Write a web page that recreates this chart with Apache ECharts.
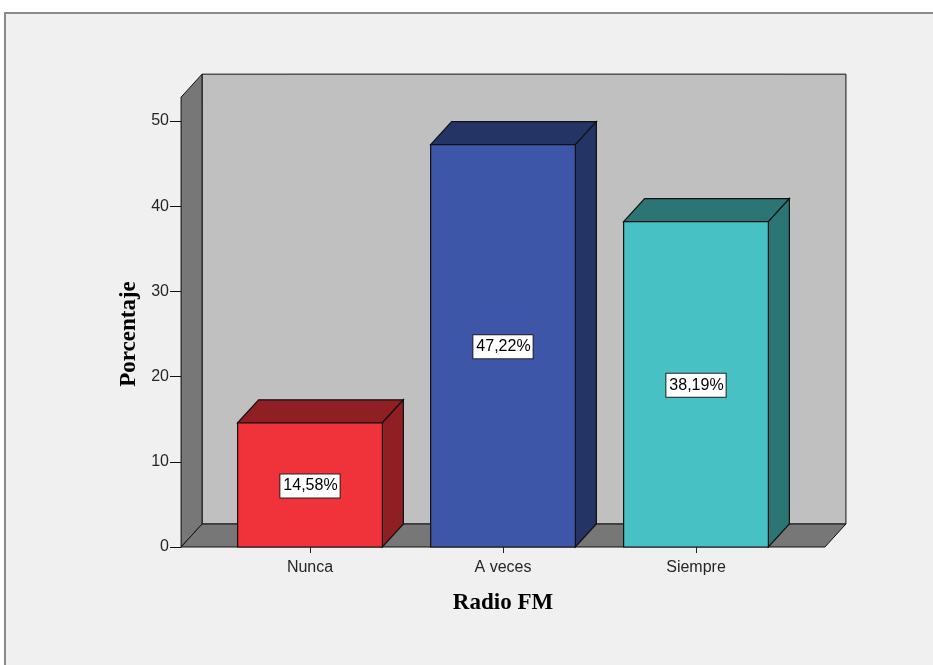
<!DOCTYPE html>
<html>
<head>
<meta charset="utf-8">
<script src="https://cdn.jsdelivr.net/npm/echarts@6/dist/echarts.min.js"></script>
<style>
  html, body { margin: 0; padding: 0; background: #ffffff; }
  #chart { width: 933px; height: 665px; }
</style>
</head>
<body>
<div id="chart"></div>
<script>
// Radio FM listening frequency, percentage of respondents
const categories = ['Nunca', 'A veces', 'Siempre'];
const percentages = [14.58, 47.22, 38.19];
const yTicks = [0, 10, 20, 30, 40, 50];

// face colours: front, and the darker top/side shade
const frontColors = ['#f0333a', '#3d56a8', '#47c1c4'];
const shadeColors = ['#8f1f23', '#243465', '#2b7574'];

// 3D depth offset in pixels
const DX = 21, DY = -23;
const BAR_RATIO = 0.75;
const WALL_EXT = 0.168;  // how far the walls reach past the outer bands
const WALL_TOP = 52.8;   // value level of the front top edge of the side wall

const chart = echarts.init(document.getElementById('chart'));

function fmtPct(v) {
  return v.toFixed(2).replace('.', ',') + '%';
}

function renderFrame(params, api) {
  const cs = params.coordSys;
  const band = cs.width / categories.length;
  const ext = band * WALL_EXT;
  const xl = cs.x - ext;
  const xr = cs.x + cs.width + ext;
  const yb = api.coord([0, 0])[1];
  const yt = api.coord([0, WALL_TOP])[1];
  const stroke = { stroke: '#111', lineWidth: 1 };
  return {
    type: 'group',
    children: [
      {
        type: 'polygon',
        shape: { points: [[xl + DX, yt + DY], [xr + DX, yt + DY], [xr + DX, yb + DY], [xl + DX, yb + DY]] },
        style: Object.assign({ fill: '#c0c0c0' }, stroke)
      },
      {
        type: 'polygon',
        shape: { points: [[xl, yb], [xl, yt], [xl + DX, yt + DY], [xl + DX, yb + DY]] },
        style: Object.assign({ fill: '#777777' }, stroke)
      },
      {
        type: 'polygon',
        shape: { points: [[xl, yb], [xr, yb], [xr + DX, yb + DY], [xl + DX, yb + DY]] },
        style: Object.assign({ fill: '#777777' }, stroke)
      }
    ]
  };
}

function renderBar(params, api) {
  const idx = api.value(0);
  const val = api.value(1);
  const top = api.coord([idx, val]);
  const base = api.coord([idx, 0]);
  const w = api.size([1, 0])[0] * BAR_RATIO;
  const x0 = top[0] - w / 2, x1 = top[0] + w / 2;
  const y0 = top[1], y1 = base[1];
  const stroke = { stroke: '#111', lineWidth: 1.2 };
  return {
    type: 'group',
    children: [
      {
        type: 'polygon',
        shape: { points: [[x0, y0], [x0 + DX, y0 + DY], [x1 + DX, y0 + DY], [x1, y0]] },
        style: Object.assign({ fill: shadeColors[idx] }, stroke)
      },
      {
        type: 'polygon',
        shape: { points: [[x1, y0], [x1 + DX, y0 + DY], [x1 + DX, y1 + DY], [x1, y1]] },
        style: Object.assign({ fill: shadeColors[idx] }, stroke)
      },
      {
        type: 'rect',
        shape: { x: x0, y: y0, width: w, height: y1 - y0 },
        style: Object.assign({ fill: frontColors[idx] }, stroke)
      },
      {
        type: 'text',
        x: top[0],
        y: (y0 + y1) / 2 + 1,
        style: {
          text: fmtPct(val),
          font: '16px "Liberation Sans", Arial, sans-serif',
          fill: '#000',
          align: 'center',
          verticalAlign: 'middle',
          backgroundColor: '#ffffff',
          borderColor: '#222',
          borderWidth: 1,
          padding: [4, 2, 3, 3]
        }
      }
    ]
  };
}

const titleFont = { fontFamily: '"Liberation Serif", "Times New Roman", serif', fontWeight: 'bold', fontSize: 23, color: '#000' };
const tickFont = { fontFamily: '"Liberation Sans", Arial, sans-serif', fontSize: 16, color: '#262626' };

chart.setOption({
  backgroundColor: '#ffffff',
  animation: false,
  graphic: [{
    type: 'rect',
    z: -10,
    shape: { x: 5, y: 13, width: 1000, height: 1000 },
    style: { fill: '#f0f0f0', stroke: '#8a8a8a', lineWidth: 2 }
  }],
  grid: { left: 213.5, right: 140.5, top: 121, bottom: 118 },
  xAxis: {
    type: 'category',
    data: categories,
    name: 'Radio FM',
    nameLocation: 'middle',
    nameGap: 45,
    nameTextStyle: titleFont,
    axisLine: { show: false },
    axisTick: { show: true, alignWithLabel: true, length: 6, lineStyle: { color: '#222' } },
    axisLabel: Object.assign({ margin: 13 }, tickFont),
    z: 5
  },
  yAxis: {
    type: 'value',
    min: 0,
    max: 50,
    interval: 10,
    offset: 32.5,
    name: 'Porcentaje',
    nameLocation: 'middle',
    nameGap: 40,
    nameTextStyle: titleFont,
    axisLine: { show: true, lineStyle: { color: '#111' } },
    axisTick: { show: true, length: 11, lineStyle: { color: '#111' } },
    axisLabel: Object.assign({
      margin: 12,
      formatter: function (v) { return yTicks.indexOf(v) >= 0 ? String(v) : ''; }
    }, tickFont),
    splitLine: { show: false }
  },
  series: [
    {
      type: 'custom',
      z: 1,
      silent: true,
      clip: false,
      renderItem: renderFrame,
      data: [[0, 0]]
    },
    {
      type: 'custom',
      z: 3,
      clip: false,
      renderItem: renderBar,
      encode: { x: 0, y: 1 },
      data: categories.map(function (c, i) { return [i, percentages[i]]; })
    }
  ]
});
</script>
</body>
</html>
